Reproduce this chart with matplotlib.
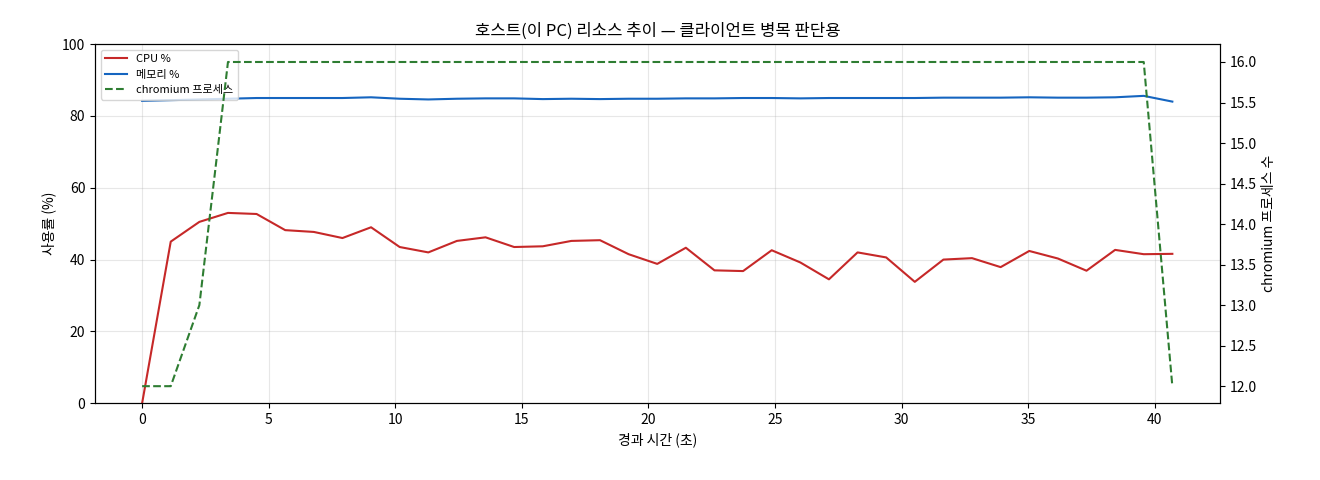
import matplotlib
matplotlib.use("Agg")
import matplotlib.pyplot as plt
import numpy as np

plt.rcParams['font.family'] = ['Noto Sans CJK KR', 'DejaVu Sans']

n = 37
t = np.arange(n) * (40.7 / 36)
cpu = [0, 45, 50.5, 53, 52.7, 48.2, 47.7, 46, 49, 43.5, 42, 45.2, 46.2, 43.5, 43.7, 45.2,
       45.4, 41.5, 38.8, 43.3, 37, 36.8, 42.6, 39.2, 34.5, 42, 40.6, 33.8, 40, 40.4, 37.9,
       42.4, 40.3, 36.9, 42.7, 41.5, 41.6]
mem = [84.2, 84.4, 84.6, 84.8, 85.0, 85.0, 85.0, 85.0, 85.2, 84.8, 84.6, 84.8, 84.9, 84.9,
       84.7, 84.8, 84.7, 84.8, 84.8, 84.9, 84.9, 85.0, 85.0, 84.9, 85.0, 85.0, 85.0, 85.0,
       85.1, 85.1, 85.1, 85.2, 85.1, 85.1, 85.2, 85.6, 84.0]
chrom = [12, 12, 13] + [16] * 33 + [12]

fig, ax = plt.subplots(figsize=(13.2, 4.8), dpi=100)
l1, = ax.plot(t, cpu, color='#c62828', lw=1.5, label='CPU %')
l2, = ax.plot(t, mem, color='#1565c0', lw=1.5, label='메모리 %')
ax.set_ylim(0, 100)
ax.set_xlim(-1.86, 42.57)
ax.set_xticks(range(0, 41, 5))
ax.set_xlabel('경과 시간 (초)')
ax.set_ylabel('사용률 (%)')
ax.grid(True, alpha=0.3)
ax.set_title('호스트(이 PC) 리소스 추이 — 클라이언트 병목 판단용')
ax2 = ax.twinx()
l3, = ax2.plot(t, chrom, color='#2e7d32', lw=1.5, ls='--', label='chromium 프로세스')
ax2.set_ylim(11.79, 16.22)
ax2.set_ylabel('chromium 프로세스 수')
ax.legend(handles=[l1, l2, l3], loc='upper left', fontsize=8)
fig.subplots_adjust(left=0.072, right=0.924, top=0.908, bottom=0.16)
fig.savefig('out.png')
